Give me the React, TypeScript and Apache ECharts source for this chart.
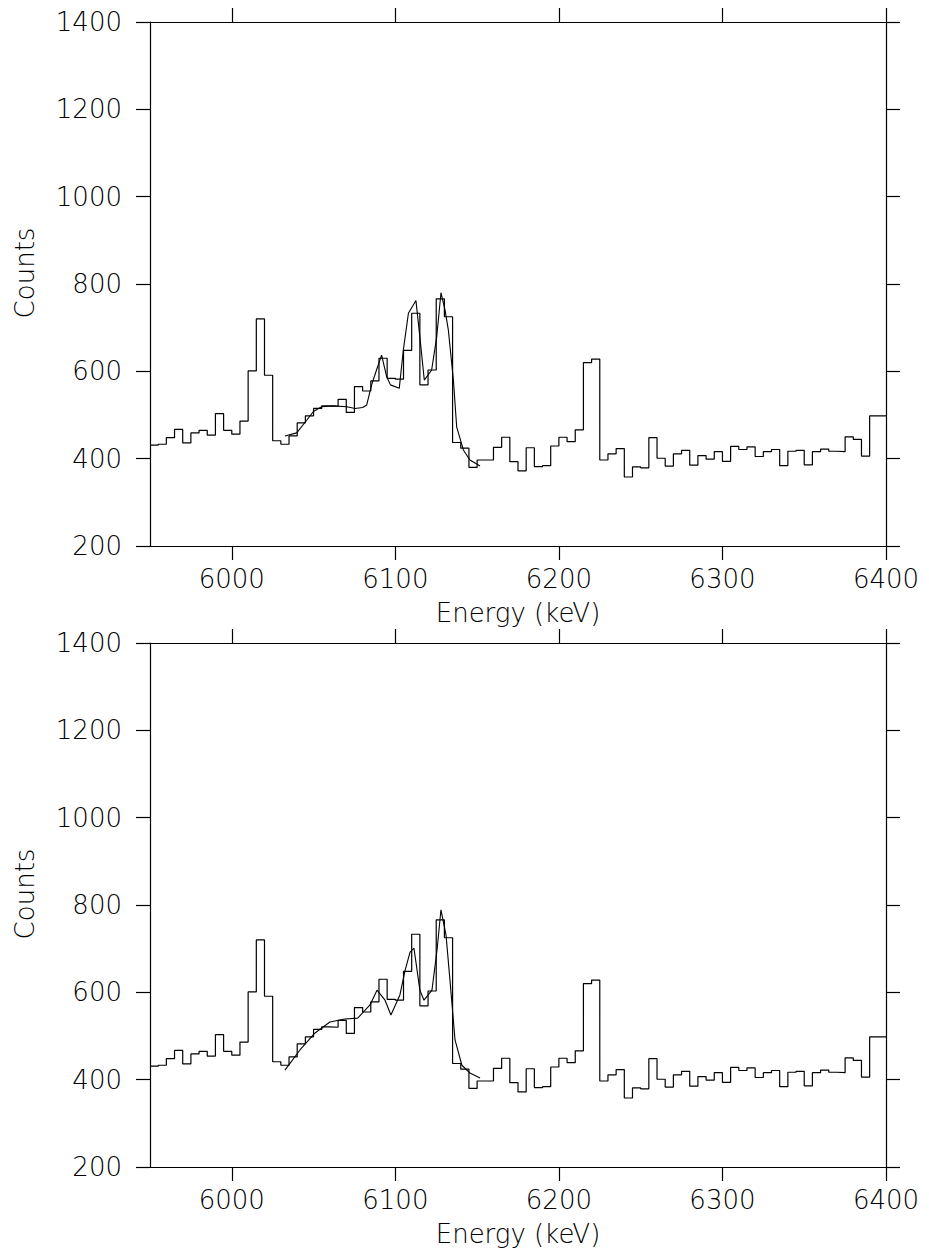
import React, { useEffect, useRef } from "react";
import * as echarts from "echarts";

const ENERGY_MIN = 5950;
const ENERGY_MAX = 6400;
const BIN_WIDTH = 5;

// Counts per 5 keV bin, 5950 .. 6395 keV (bin start)
const COUNTS = [
  431, 433, 448, 467, 436, 459, 465, 454, 503, 465,
  456, 486, 601, 720, 591, 441, 433, 452, 482, 498,
  515, 521, 520, 536, 506, 565, 555, 578, 630, 584,
  582, 648, 733, 569, 603, 766, 725, 437, 424, 380,
  397, 397, 426, 449, 393, 372, 425, 382, 384, 429,
  449, 439, 466, 620, 628, 397, 411, 423, 358, 381,
  379, 448, 401, 383, 411, 419, 385, 407, 399, 416,
  394, 428, 421, 427, 405, 416, 421, 384, 417, 419,
  386, 416, 422, 417, 416, 450, 444, 406, 498, 498,
];

// Fit curve, upper panel: [energy keV, counts]
const FIT_TOP = [
  [6032.5, 452], [6039.7, 459], [6045.8, 488], [6049.9, 508], [6055, 519],
  [6062, 521], [6070.3, 519], [6075.4, 515], [6080, 517], [6082.5, 523],
  [6085.5, 569], [6088.5, 603], [6091.6, 637], [6094.7, 588], [6097, 569],
  [6102.4, 561], [6104.9, 649], [6108, 733], [6112.6, 762], [6115, 679],
  [6117.7, 580], [6122.2, 603], [6125.3, 679], [6127.9, 780], [6130.4, 740],
  [6132.4, 695], [6135.5, 580], [6137.5, 473], [6141.6, 420], [6145.6, 397],
  [6151.8, 383],
];

// Fit curve, lower panel: [energy keV, counts]
const FIT_BOTTOM = [
  [6032.5, 422], [6041.7, 468], [6050.9, 507], [6060, 532], [6069, 539],
  [6077, 541], [6084.5, 571], [6088.8, 605], [6093.7, 582], [6097.3, 548],
  [6102.8, 594], [6106, 651], [6109, 692], [6111.4, 701], [6115, 605],
  [6117.5, 582], [6122.4, 605], [6125.5, 697], [6127.9, 789], [6131, 731],
  [6133.4, 628], [6136.5, 491], [6140.7, 433], [6145.6, 415], [6151.8, 404],
];

const X_TICKS = [6000, 6100, 6200, 6300, 6400];
const Y_MIN = 200;
const Y_MAX = 1400;
const Y_STEP = 200;

const X_TITLE = "Energy (keV)";
const Y_TITLE = "Counts";

const FONT = "DejaVu Sans";
const INK = "#000";

export default function App() {
  const ref = useRef<HTMLDivElement>(null);

  useEffect(() => {
    if (!ref.current) return;
    const chart = echarts.init(ref.current, undefined, { renderer: "svg" });

    const histData: number[][] = COUNTS.map((c, i) => [ENERGY_MIN + i * BIN_WIDTH, c]);
    histData.push([ENERGY_MAX, COUNTS[COUNTS.length - 1]]);

    const grids = [
      { left: 150, top: 22, width: 736, height: 524 },
      { left: 150, top: 643, width: 736, height: 524 },
    ];
    const lineStyle = { color: INK, width: 1.2 };
    const labelStyle = { color: INK, fontFamily: FONT, fontSize: 26, fontWeight: 200 as any };
    const plain = (v: number) => String(v);

    const xAxes: any[] = [];
    const yAxes: any[] = [];
    const series: any[] = [];
    const fits = [FIT_TOP, FIT_BOTTOM];

    grids.forEach((_, gi) => {
      xAxes.push({
        type: "value",
        gridIndex: gi,
        position: "bottom",
        min: ENERGY_MIN,
        max: ENERGY_MAX,
        axisLine: { show: true, onZero: false, lineStyle },
        axisTick: { show: true, inside: false, length: 14, customValues: X_TICKS, lineStyle },
        axisLabel: { show: true, customValues: X_TICKS, margin: 20, formatter: plain, ...labelStyle },
        splitLine: { show: false },
        name: X_TITLE,
        nameLocation: "middle",
        nameGap: 54,
        nameTextStyle: { ...labelStyle },
      });
      xAxes.push({
        type: "value",
        gridIndex: gi,
        position: "top",
        min: ENERGY_MIN,
        max: ENERGY_MAX,
        axisLine: { show: true, onZero: false, lineStyle },
        axisTick: { show: true, inside: false, length: 14, customValues: X_TICKS, lineStyle },
        axisLabel: { show: false, customValues: X_TICKS },
        splitLine: { show: false },
      });
      yAxes.push({
        type: "value",
        gridIndex: gi,
        position: "left",
        min: Y_MIN,
        max: Y_MAX,
        interval: Y_STEP,
        axisLine: { show: true, onZero: false, lineStyle },
        axisTick: { show: true, inside: false, length: 14, lineStyle },
        axisLabel: { show: true, margin: 28, formatter: plain, ...labelStyle },
        splitLine: { show: false },
        name: Y_TITLE,
        nameLocation: "middle",
        nameRotate: 90,
        nameGap: 112,
        nameTextStyle: { ...labelStyle, padding: [0, 0, 0, 22] },
      });
      yAxes.push({
        type: "value",
        gridIndex: gi,
        position: "right",
        min: Y_MIN,
        max: Y_MAX,
        interval: Y_STEP,
        axisLine: { show: true, onZero: false, lineStyle },
        axisTick: { show: true, inside: false, length: 14, lineStyle },
        axisLabel: { show: false },
        splitLine: { show: false },
      });
      series.push({
        type: "line",
        name: "data",
        xAxisIndex: gi * 2,
        yAxisIndex: gi * 2,
        step: "end",
        data: histData,
        symbol: "none",
        lineStyle: { color: INK, width: 1.2 },
        silent: true,
      });
      series.push({
        type: "line",
        name: "fit",
        xAxisIndex: gi * 2,
        yAxisIndex: gi * 2,
        data: fits[gi],
        symbol: "none",
        smooth: false,
        lineStyle: { color: INK, width: 1.1 },
        silent: true,
      });
    });

    chart.setOption({
      animation: false,
      backgroundColor: "#fff",
      grid: grids.map((g) => ({ ...g, containLabel: false, outerBoundsMode: "none" })),
      xAxis: xAxes,
      yAxis: yAxes,
      series,
    });

    return () => chart.dispose();
  }, []);

  return (
    <div
      ref={ref}
      style={{ position: "absolute", left: 0, top: 0, width: 929, height: 1254 }}
    />
  );
}
